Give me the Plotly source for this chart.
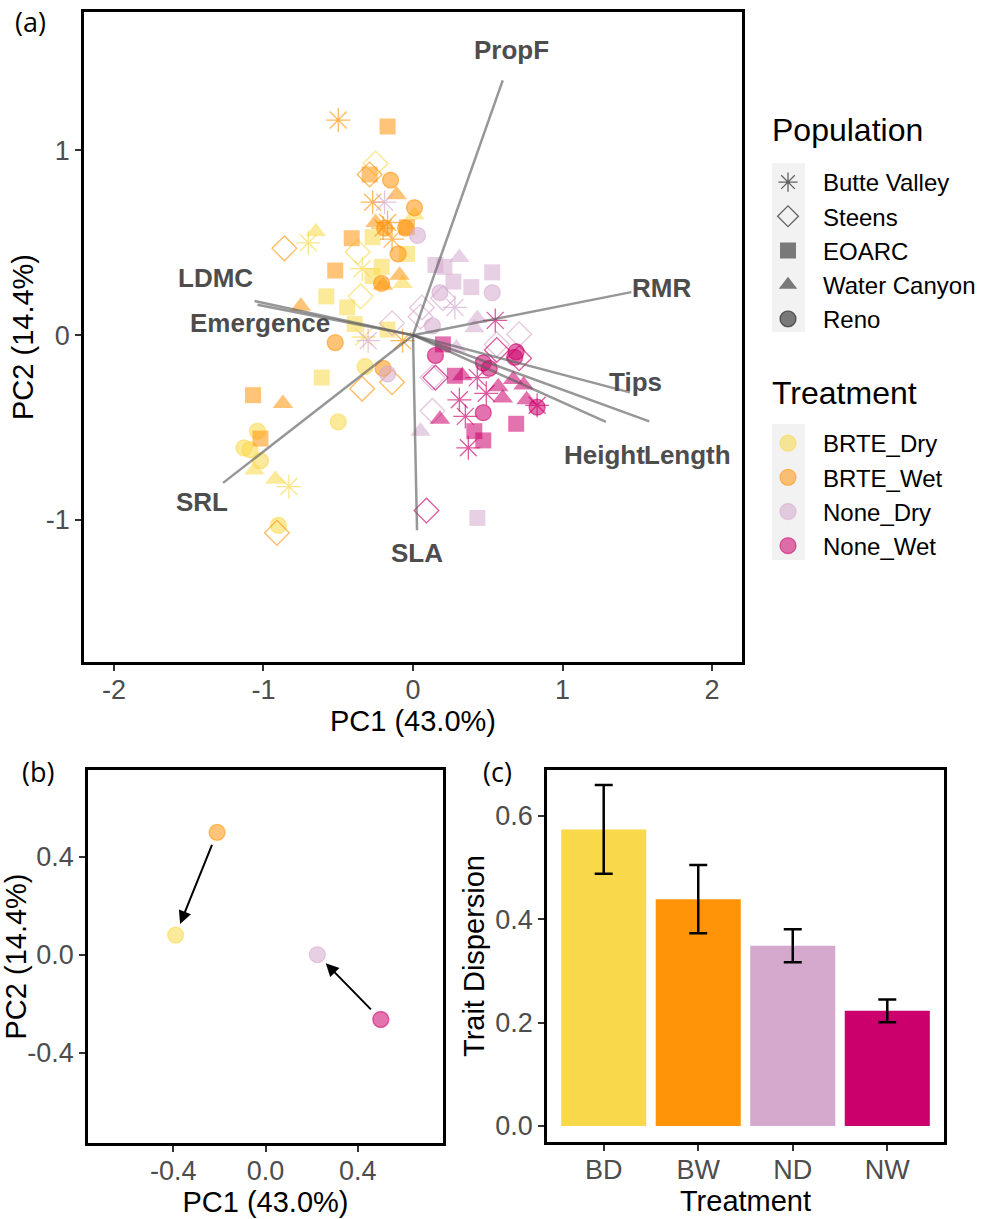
import plotly.graph_objects as go

# ---------------- Panel (a): PCA scores ----------------
POP_CODES = ["BV", "ST", "EO", "WC", "RE"]
POP_NAMES = ["Butte Valley", "Steens", "EOARC", "Water Canyon", "Reno"]
TREATMENTS = ["BRTE_Dry", "BRTE_Wet", "None_Dry", "None_Wet"]

BD_PC1 = [-0.70, -0.34, -0.33, -0.83,
          -0.25, -0.37, -0.35,
          -0.27, -0.04, -0.21, -0.27, -0.58, -0.44, -0.39, -0.17, -0.61,
          -0.65, 0.01, -0.07, -1.06, -0.92,
          -0.32, -0.50, -1.04, -1.13, -1.09, -1.02, -0.90]
BD_PC2 = [0.50, 0.36, -0.01, -0.82,
          0.93, 0.45, 0.21,
          0.53, 0.44, 0.37, 0.32, 0.21, 0.15, 0.06, 0.03, -0.23,
          0.56, 0.65, 0.28, -0.73, -0.78,
          -0.17, -0.47, -0.52, -0.61, -0.62, -0.68, -1.03]
BD_POP = ["BV", "BV", "BV", "BV",
          "ST", "ST", "ST",
          "EO", "EO", "EO", "EO", "EO", "EO", "EO", "EO", "EO",
          "WC", "WC", "WC", "WC", "WC",
          "RE", "RE", "RE", "RE", "RE", "RE", "RE"]

BW_PC1 = [-0.50, -0.27, -0.20, -0.17, -0.14, -0.07,
          -0.29, -0.86, -0.34, -0.14, -0.91,
          -0.17, -0.29, -0.41, -0.04, -0.52, -1.07, -1.02,
          -0.11, -0.25, -0.09, -0.20, -0.75, -0.87,
          -0.15, 0.01, -0.19, -0.05, -0.10, -0.21, -0.52, -0.20]
BW_PC2 = [1.165, 0.72, 0.58, 0.61, 0.52, -0.03,
          0.87, 0.47, -0.29, -0.255, -1.07,
          1.13, 0.87, 0.525, 0.585, 0.35, -0.325, -0.56,
          0.76, 0.61, 0.325, 0.27, 0.157, -0.37,
          0.84, 0.69, 0.58, 0.58, 0.44, 0.28, -0.04, -0.18]
BW_POP = ["BV", "BV", "BV", "BV", "BV", "BV",
          "ST", "ST", "ST", "ST", "ST",
          "EO", "EO", "EO", "EO", "EO", "EO", "EO",
          "WC", "WC", "WC", "WC", "WC", "WC",
          "RE", "RE", "RE", "RE", "RE", "RE", "RE", "RE"]

ND_PC1 = [-0.19, 0.28, -0.30,
          -0.14, 0.06, 0.05, 0.20, 0.71, 0.13, 0.13, 0.56,
          0.15, 0.21, 0.53, 0.27, 0.39, 0.43,
          0.31, 0.43, 0.41, 0.29, 0.05,
          0.03, 0.53, 0.18, 0.13, -0.17]
ND_PC2 = [0.72, 0.15, -0.03,
          0.065, 0.15, 0.10, 0.20, 0.005, -0.23, -0.41, -0.05,
          0.38, 0.37, 0.34, 0.29, 0.26, -0.99,
          0.42, 0.09, 0.04, -0.07, -0.52,
          0.54, 0.23, 0.23, 0.05, -0.21]
ND_POP = ["BV", "BV", "BV",
          "ST", "ST", "ST", "ST", "ST", "ST", "ST", "ST",
          "EO", "EO", "EO", "EO", "EO", "EO",
          "WC", "WC", "WC", "WC", "WC",
          "RE", "RE", "RE", "RE", "RE"]

NW_PC1 = [0.55, 0.43, 0.49, 0.83, 0.31, 0.35, 0.37,
          0.15, 0.56, 0.71, 0.09,
          0.20, 0.28, 0.69, 0.41, 0.47,
          0.33, 0.57, 0.67, 0.74, 0.76, 0.18, 0.60,
          0.15, 0.47, 0.51, 0.68, 0.69, 0.83, 0.47]
NW_PC2 = [0.08, -0.23, -0.315, -0.38, -0.35, -0.44, -0.61,
          -0.23, -0.08, -0.125, -0.95,
          -0.05, -0.22, -0.48, -0.52, -0.57,
          -0.22, -0.28, -0.24, -0.27, -0.35, -0.455, -0.34,
          -0.11, -0.15, -0.18, -0.12, -0.09, -0.39, -0.42]
NW_POP = ["BV", "BV", "BV", "BV", "BV", "BV", "BV",
          "ST", "ST", "ST", "ST",
          "EO", "EO", "EO", "EO", "EO",
          "WC", "WC", "WC", "WC", "WC", "WC", "WC",
          "RE", "RE", "RE", "RE", "RE", "RE", "RE"]

# trait loadings (biplot vectors)
TRAITS = ["PropF", "RMR", "Tips", "Height", "Length", "SLA", "SRL", "LDMC", "Emergence"]
LOAD_PC1 = [0.60, 1.46, 1.45, 1.29, 1.58, 0.027, -1.27, -1.06, -1.04]
LOAD_PC2 = [1.38, 0.233, -0.31, -0.47, -0.467, -1.057, -0.80, 0.185, 0.165]
LABEL_PC1 = [0.66, 1.66, 1.49, 1.549, 1.545, 0.03, -1.413, -1.32, -1.02]
LABEL_PC2 = [1.545, 0.255, -0.255, -0.65, -0.65, -1.18, -0.905, 0.31, 0.065]
LABEL_ANCHOR = ["center", "center", "center", "right", "left", "center", "center", "center", "center"]

# ---------------- Panel (b): treatment centroids ----------------
CENT_TREAT = ["BRTE_Dry", "BRTE_Wet", "None_Dry", "None_Wet"]
CENT_PC1 = [-0.39, -0.21, 0.225, 0.50]
CENT_PC2 = [0.08, 0.50, 0.00, -0.265]
ARROW_FROM = ["BRTE_Wet", "None_Wet"]
ARROW_TO = ["BRTE_Dry", "None_Dry"]

# ---------------- Panel (c): trait dispersion ----------------
BAR_LABELS = ["BD", "BW", "ND", "NW"]
BAR_VALUES = [0.574, 0.439, 0.349, 0.223]
BAR_SE = [0.086, 0.066, 0.032, 0.022]

# ---------------- styles ----------------
TREAT_COLORS = {"BRTE_Dry": "#F9D849", "BRTE_Wet": "#FF9408",
                "None_Dry": "#D5A9CD", "None_Wet": "#CC006C"}
SYMBOL = {"BV": "asterisk-open", "ST": "diamond-open", "EO": "square",
          "WC": "triangle-up", "RE": "circle"}
SIZE = {"BV": 20, "ST": 19, "EO": 16, "WC": 18, "RE": 16}
ALPHA = 0.55
FONT = "Liberation Sans, Arial, sans-serif"
TICK_COL = "#4D4D4D"
W, H = 994, 1219


def rgba(hexc, a):
    h = hexc.lstrip("#")
    r, g, b = int(h[0:2], 16), int(h[2:4], 16), int(h[4:6], 16)
    return f"rgba({r},{g},{b},{a})"


def marker_for(code, color, alpha=ALPHA, size=None):
    sz = SIZE[code] if size is None else size
    c = rgba(color, alpha)
    if code in ("BV", "ST"):
        return dict(symbol=SYMBOL[code], size=sz, color=rgba(color, min(1, alpha + 0.1)),
                    line=dict(width=1.3, color=rgba(color, min(1, alpha + 0.1))))
    if code == "RE":
        return dict(symbol="circle", size=sz, color=c, line=dict(width=1.3, color=c))
    return dict(symbol=SYMBOL[code], size=sz, color=c, line=dict(width=0))


fig = go.Figure()

series = {
    "BRTE_Dry": (BD_PC1, BD_PC2, BD_POP),
    "BRTE_Wet": (BW_PC1, BW_PC2, BW_POP),
    "None_Dry": (ND_PC1, ND_PC2, ND_POP),
    "None_Wet": (NW_PC1, NW_PC2, NW_POP),
}

for t in TREATMENTS:
    xs, ys, pops = series[t]
    for code in POP_CODES:
        idx = [i for i, p in enumerate(pops) if p == code]
        if not idx:
            continue
        fig.add_trace(go.Scatter(
            x=[xs[i] for i in idx], y=[ys[i] for i in idx], mode="markers",
            marker=marker_for(code, TREAT_COLORS[t]), showlegend=False,
            xaxis="x", yaxis="y", hoverinfo="skip"))

# loading vectors
lx, ly = [], []
for a, b in zip(LOAD_PC1, LOAD_PC2):
    lx += [0, a, None]
    ly += [0, b, None]
fig.add_trace(go.Scatter(x=lx, y=ly, mode="lines",
                         line=dict(color="rgba(95,95,95,0.65)", width=2.5),
                         showlegend=False, xaxis="x", yaxis="y", hoverinfo="skip"))

for name, x, y, anc in zip(TRAITS, LABEL_PC1, LABEL_PC2, LABEL_ANCHOR):
    fig.add_annotation(x=x, y=y, xref="x", yref="y", text=f"<b>{name}</b>",
                       showarrow=False, xanchor=anc, yanchor="middle",
                       borderpad=0, borderwidth=0,
                       font=dict(family=FONT, size=26, color="#4D4D4D"))

# legend entries (Population)
for code, name in zip(POP_CODES, POP_NAMES):
    m = marker_for(code, "#000000", alpha=0.5, size=16)
    fig.add_trace(go.Scatter(x=[None], y=[None], mode="markers", marker=m, name=name,
                             legend="legend", showlegend=True, xaxis="x", yaxis="y"))
# legend entries (Treatment)
for t in TREATMENTS:
    m = marker_for("RE", TREAT_COLORS[t], size=16)
    fig.add_trace(go.Scatter(x=[None], y=[None], mode="markers", marker=m, name=t,
                             legend="legend2", showlegend=True, xaxis="x", yaxis="y"))

# ---------------- Panel (b) ----------------
for t, x, y in zip(CENT_TREAT, CENT_PC1, CENT_PC2):
    fig.add_trace(go.Scatter(x=[x], y=[y], mode="markers",
                             marker=marker_for("RE", TREAT_COLORS[t], size=16),
                             showlegend=False, xaxis="x2", yaxis="y2", hoverinfo="skip"))
for f, tt in zip(ARROW_FROM, ARROW_TO):
    i0, i1 = CENT_TREAT.index(f), CENT_TREAT.index(tt)
    fig.add_annotation(x=CENT_PC1[i1], y=CENT_PC2[i1], ax=CENT_PC1[i0], ay=CENT_PC2[i0],
                       xref="x2", yref="y2", axref="x2", ayref="y2",
                       showarrow=True, arrowhead=2, arrowsize=1.3, arrowwidth=2,
                       arrowcolor="black", standoff=12, startstandoff=12, text="")

# ---------------- Panel (c) ----------------
fig.add_trace(go.Bar(x=BAR_LABELS, y=BAR_VALUES, width=0.9,
                     marker=dict(color=[TREAT_COLORS[t] for t in TREATMENTS], line=dict(width=0)),
                     error_y=dict(type="data", array=BAR_SE, color="black", thickness=2.5, width=9),
                     showlegend=False, xaxis="x3", yaxis="y3", hoverinfo="skip"))

# ---------------- Layout ----------------
def px_dom_x(a, b):
    return [a / W, b / W]


def px_dom_y(top, bottom):
    return [1 - bottom / H, 1 - top / H]


axis_common = dict(showline=True, mirror=True, linecolor="black", linewidth=2.5,
                   ticks="outside", ticklen=6, tickwidth=1.5, tickcolor="#333333",
                   showgrid=False, zeroline=False,
                   tickfont=dict(family=FONT, size=27, color=TICK_COL))
xaxis_extra = dict(ticklabelstandoff=-4)
title_font = dict(family=FONT, size=29, color="black")

legend_common = dict(xanchor="left", yanchor="top", itemwidth=60,
                     font=dict(family=FONT, size=24, color="black"),
                     bgcolor="rgba(0,0,0,0)", borderwidth=0, itemclick=False)

fig.update_layout(
    width=W, height=H, margin=dict(l=0, r=0, t=0, b=0),
    paper_bgcolor="white", plot_bgcolor="white",
    font=dict(family=FONT),
    xaxis=dict(domain=px_dom_x(84, 742), range=[-2.2, 2.2], anchor="y",
               tickvals=[-2, -1, 0, 1, 2], ticktext=["-2", "-1", "0", "1", "2"],
               title=dict(text="PC1 (43.0%)", font=title_font, standoff=4),
               **axis_common, **xaxis_extra),
    yaxis=dict(domain=px_dom_y(12, 662), range=[-1.77, 1.75], anchor="x",
               tickvals=[-1, 0, 1], ticktext=["-1", "0", "1"],
               title=dict(text="PC2 (14.4%)", font=title_font, standoff=4), **axis_common),
    xaxis2=dict(domain=px_dom_x(88, 443), range=[-0.77, 0.77], anchor="y2",
                tickvals=[-0.4, 0, 0.4], ticktext=["-0.4", "0.0", "0.4"],
                title=dict(text="PC1 (43.0%)", font=title_font, standoff=6),
                **axis_common, **xaxis_extra),
    yaxis2=dict(domain=px_dom_y(770, 1143), range=[-0.77, 0.755], anchor="x2",
                tickvals=[-0.4, 0, 0.4], ticktext=["-0.4", "0.0", "0.4"],
                title=dict(text="PC2 (14.4%)", font=title_font, standoff=3), **axis_common),
    xaxis3=dict(domain=px_dom_x(547, 944), range=[-0.6, 3.6], anchor="y3",
                type="category",
                title=dict(text="Treatment", font=title_font, standoff=6),
                **axis_common, **xaxis_extra),
    yaxis3=dict(domain=px_dom_y(770, 1142), range=[-0.031, 0.689], anchor="x3",
                tickvals=[0, 0.2, 0.4, 0.6], ticktext=["0.0", "0.2", "0.4", "0.6"],
                title=dict(text="Trait Dispersion", font=title_font, standoff=3), **axis_common),
    legend=dict(x=753 / W, y=1 - 160 / H, **legend_common),
    legend2=dict(x=753 / W, y=1 - 421 / H, **legend_common),
)

# legend titles
for txt, ypx in [("Population", 130), ("Treatment", 393)]:
    fig.add_annotation(x=772 / W, y=1 - ypx / H, xref="paper", yref="paper", text=txt,
                       showarrow=False, xanchor="left", yanchor="middle",
                       borderpad=0, borderwidth=0,
                       font=dict(family=FONT, size=32, color="black"))

# grey key backgrounds for the legends
for top, bot in [(163, 332), (424, 560)]:
    fig.add_shape(type="rect", xref="paper", yref="paper",
                  x0=772 / W, x1=805 / W, y0=1 - bot / H, y1=1 - top / H,
                  fillcolor="#F2F2F2", line=dict(width=0), layer="below")

# panel letters
for txt, x, y in [("(a)", 30, 22), ("(b)", 38, 771), ("(c)", 497, 771)]:
    fig.add_annotation(x=x / W, y=1 - y / H, xref="paper", yref="paper", text=txt,
                       showarrow=False, xanchor="center", yanchor="middle",
                       font=dict(family="Open Sans, sans-serif", size=27, color="black"))

fig.write_html("out.html")
